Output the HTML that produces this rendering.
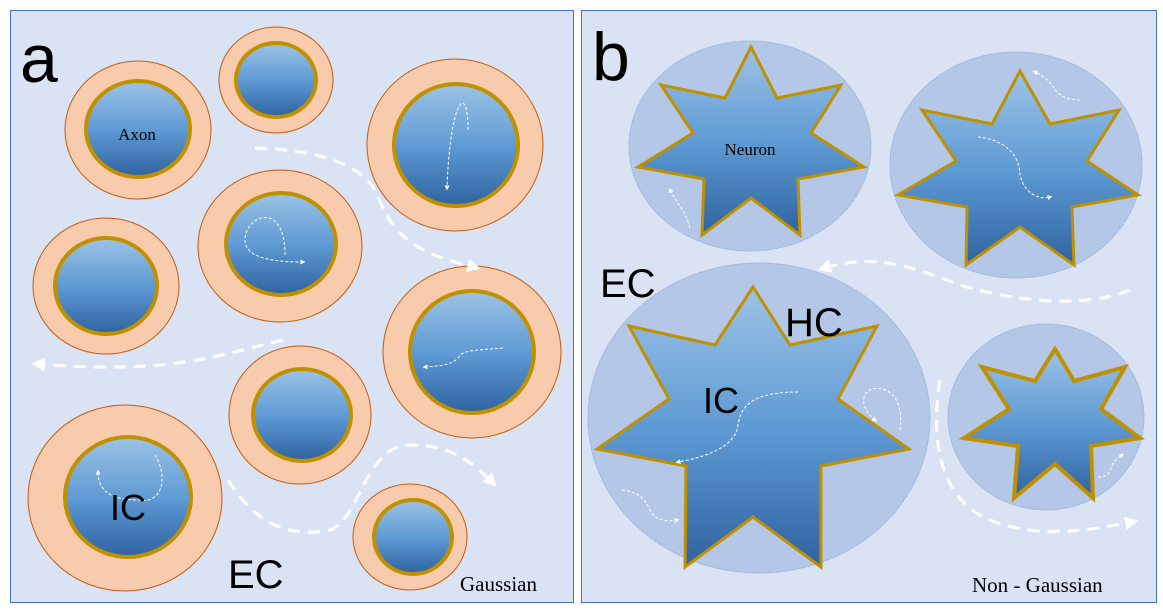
<!DOCTYPE html>
<html><head><meta charset="utf-8"><style>
html,body{margin:0;padding:0;background:#fff;}
svg{display:block;}
</style></head><body>
<svg width="1163" height="615" viewBox="0 0 1163 615" xmlns="http://www.w3.org/2000/svg">
<defs>
<linearGradient id="g" x1="0" y1="0" x2="0" y2="1">
<stop offset="0" stop-color="#9dc3e6"/><stop offset="0.5" stop-color="#5f9bd4"/><stop offset="1" stop-color="#2e63a0"/>
</linearGradient>
<marker id="ah" viewBox="0 0 10 10" refX="5" refY="5" markerWidth="5" markerHeight="5" orient="auto"><path d="M0,0L10,5L0,10z" fill="#fff"/></marker>
<marker id="as" viewBox="0 0 10 10" refX="5" refY="5" markerWidth="4.5" markerHeight="4.5" orient="auto"><path d="M0,0L10,5L0,10z" fill="#fff"/></marker>
</defs>
<rect x="10.5" y="10.5" width="563" height="592" fill="#dae3f3" stroke="#4472c4"/>
<rect x="581.5" y="10.5" width="575" height="592" fill="#dae3f3" stroke="#4472c4"/>

<g stroke="#c55a11" stroke-width="1" fill="#f8cbad">
<ellipse cx="138" cy="130" rx="73" ry="69"/>
<ellipse cx="276" cy="80" rx="57" ry="53"/>
<ellipse cx="455" cy="145" rx="88" ry="86"/>
<ellipse cx="280" cy="246" rx="82" ry="76"/>
<ellipse cx="106" cy="286" rx="73" ry="68"/>
<ellipse cx="472" cy="352" rx="89" ry="86"/>
<ellipse cx="300" cy="415" rx="71" ry="69"/>
<ellipse cx="125" cy="498" rx="97" ry="93"/>
<ellipse cx="410" cy="537" rx="57" ry="53"/>
</g>
<g stroke="#bf9000" stroke-width="4" fill="url(#g)">
<ellipse cx="138" cy="129" rx="52" ry="48"/>
<ellipse cx="276" cy="80" rx="40" ry="37"/>
<ellipse cx="456" cy="145" rx="62" ry="61"/>
<ellipse cx="281" cy="244" rx="55" ry="51"/>
<ellipse cx="106" cy="286" rx="51" ry="48"/>
<ellipse cx="472" cy="352" rx="62" ry="61"/>
<ellipse cx="302" cy="415" rx="49" ry="46"/>
<ellipse cx="128" cy="497" rx="63" ry="60"/>
<ellipse cx="413" cy="537" rx="39" ry="37"/>
</g>

<g fill="#b4c7e7" stroke="#8faadc" stroke-width="1" stroke-dasharray="1.5 1">
<ellipse cx="750" cy="146" rx="121" ry="105"/>
<ellipse cx="1016" cy="165" rx="126" ry="113"/>
<ellipse cx="759" cy="418" rx="171" ry="155"/>
<ellipse cx="1046" cy="417" rx="98" ry="93"/>
</g>
<g stroke="#bf9000" stroke-width="3" fill="url(#g)" stroke-linejoin="miter">
<polygon points="751,47 777,98 841,85 811,133 864,167 798,179 800,235 751,198 702,235 704,179 638,167 693,133 661,85 725,98"/>
<polygon points="1020,71 1050,124 1119,110 1087,161 1138,195 1072,207 1074,265 1020,227 966,265 967,207 898,195 956,161 922,110 992,124"/>
<polygon points="753,287 790,345 877,326 838,399 909,449 821,466 821,567 753,517 685,567 686,466 597,449 669,399 629,326 715,345"/>
<polygon points="1055,349 1074,381 1125,367 1101,409 1140,438 1091,446 1093,498 1055,464 1014,498 1018,446 964,438 1009,409 982,367 1035,381" stroke-width="4"/>
</g>

<g fill="none" stroke="#fff" stroke-width="3" stroke-dasharray="12 8">
<path d="M255,148 C320,150 360,165 375,190 C390,225 400,250 474,267" marker-end="url(#as)"/>
<path d="M283,340 C220,355 170,375 38,364" marker-end="url(#as)"/>
<path d="M228,480 C250,515 280,540 330,530 C360,520 365,445 410,445 C450,445 470,460 492,482" marker-end="url(#as)"/>
<path d="M1130,290 C1080,310 1010,300 960,285 C900,262 870,255 824,268" marker-end="url(#as)"/>
<path d="M940,380 C930,440 940,500 990,520 C1040,540 1090,530 1132,522" marker-end="url(#as)"/>
</g>
<g fill="none" stroke="#fff" stroke-width="1" stroke-dasharray="3 2">
<path d="M468,130 C468,80 450,100 447,188" marker-end="url(#ah)"/>
<path d="M285,255 C285,200 245,215 245,240 C245,260 280,262 303,262" marker-end="url(#ah)"/>
<path d="M503,348 C480,350 465,350 460,355 C455,365 440,366 425,367" marker-end="url(#ah)"/>
<path d="M155,455 C170,480 160,505 138,500 C110,500 98,490 98,472" marker-end="url(#ah)"/>
<path d="M690,228 C685,210 678,205 670,190" marker-end="url(#ah)"/>
<path d="M1080,100 C1065,100 1058,95 1052,85 C1048,80 1042,75 1035,72" marker-end="url(#ah)"/>
<path d="M978,137 C1010,140 1020,160 1020,175 C1025,195 1040,200 1050,197" marker-end="url(#ah)"/>
<path d="M798,392 C740,392 740,415 737,430 C730,450 700,458 678,462" marker-end="url(#ah)"/>
<path d="M900,430 C905,390 880,385 870,390 C860,395 862,410 875,420" marker-end="url(#ah)"/>
<path d="M622,490 C640,492 645,500 650,510 C655,520 665,522 677,520" marker-end="url(#ah)"/>
<path d="M1098,477 C1110,477 1110,470 1112,465 C1115,460 1118,458 1122,455" marker-end="url(#ah)"/>
</g>

<g font-family="Liberation Sans, sans-serif" fill="#000">
<text x="20" y="82" font-size="68">a</text>
<text x="592" y="80" font-size="68">b</text>
<text x="110" y="520" font-size="36">IC</text>
<text x="228" y="588" font-size="40">EC</text>
<text x="600" y="297" font-size="40">EC</text>
<text x="785" y="336" font-size="40">HC</text>
<text x="703" y="413" font-size="36">IC</text>
</g>
<g font-family="Liberation Serif, serif" fill="#000">
<text x="137" y="140" font-size="17" text-anchor="middle">Axon</text>
<text x="750" y="155" font-size="17" text-anchor="middle">Neuron</text>
<text x="460" y="591" font-size="21">Gaussian</text>
<text x="972" y="592" font-size="21">Non - Gaussian</text>
</g>
</svg>
</body></html>
